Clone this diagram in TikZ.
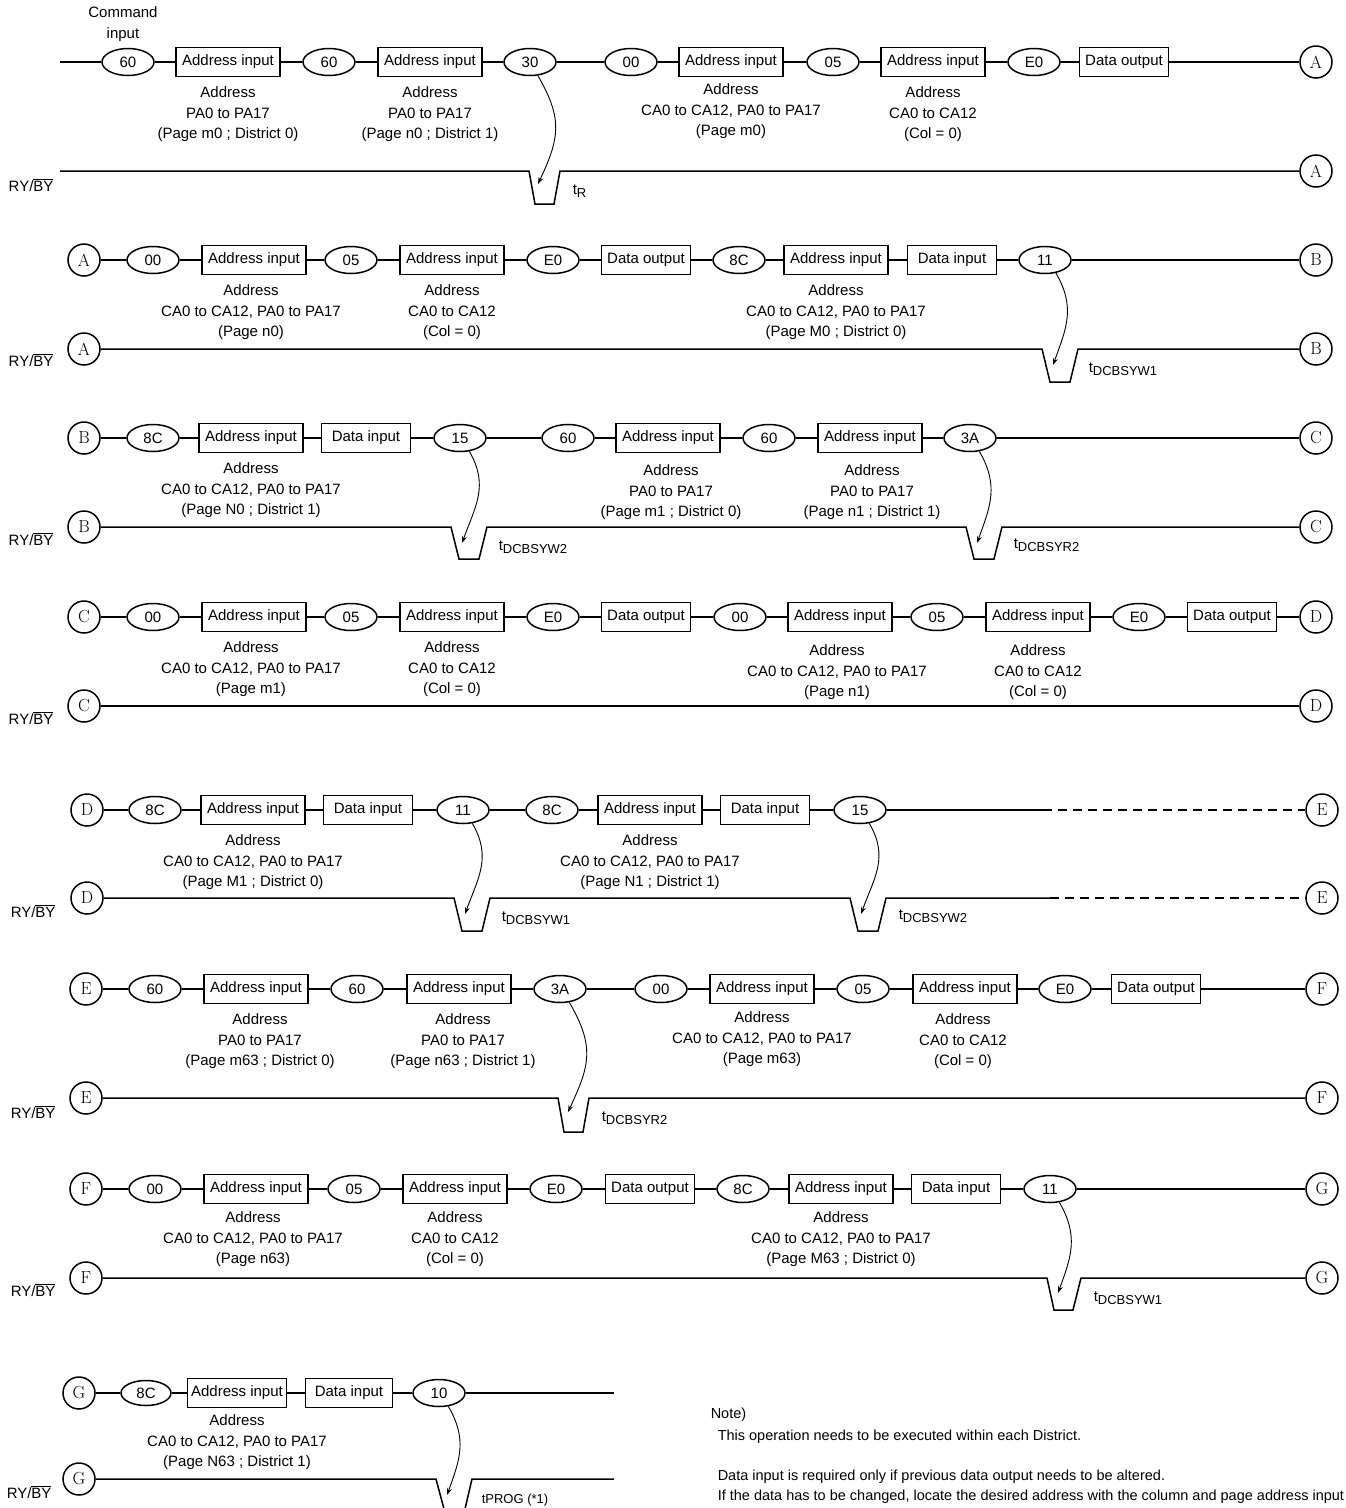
\documentclass[tikz,border=0pt]{standalone}
\usepackage{fontspec}
\setsansfont{Liberation Sans}
\usetikzlibrary{shapes.geometric, arrows.meta, positioning}
\newcommand{\tsub}[1]{t\raisebox{-3.5pt}{\fontsize{13}{13}\selectfont #1}}

\begin{document}
\begin{tikzpicture}[
    x=1pt, y=-1pt,
    font=\sffamily\fontsize{15}{20.5}\selectfont,
    line width=1.5pt,
    % Styles
    cmd/.style={ellipse, draw, minimum width=52pt, minimum height=27pt, inner sep=0pt},
    adrbox/.style={draw, minimum width=104pt, minimum height=29pt, inner sep=0pt},
    datbox/.style={draw, minimum width=89pt, minimum height=29pt, inner sep=0pt},
    conn/.style={circle, draw, minimum size=32pt, inner sep=0pt, font=\rmfamily\fontsize{17.5}{17.5}\selectfont},
    addr/.style={align=center, inner sep=0pt, below=9pt of #1},
    ryby/.style={anchor=west, inner sep=0pt},
    tlbl/.style={anchor=west, inner sep=0pt},
    wait/.style={-{Stealth[length=7pt, width=5pt]}, line width=0.9pt},
    cont/.style={dash pattern=on 9pt off 6pt},
    note/.style={anchor=west, inner sep=0pt, font=\sffamily\fontsize{14.5}{17}\selectfont}
]
    \path[use as bounding box, fill=white] (0,0) rectangle (1346,1508);

    % --- Row 1 ---
    \node[align=center, inner sep=0pt] (cmdin) at (123,24) {Command\\input};
    \coordinate (r1start) at (60,62);
    \node[cmd] (r1a) at (128,62) {60};
    \node[adrbox] (r1b) at (228,62) {Address input};
    \node[cmd] (r1c) at (329,62) {60};
    \node[adrbox] (r1d) at (430,62) {Address input};
    \node[cmd] (r1e) at (530,62) {30};
    \node[cmd] (r1f) at (631,62) {00};
    \node[adrbox] (r1g) at (731,62) {Address input};
    \node[cmd] (r1h) at (833,62) {05};
    \node[adrbox] (r1i) at (933,62) {Address input};
    \node[cmd] (r1j) at (1034,62) {E0};
    \node[datbox] (r1k) at (1124,62) {Data output};
    \node[conn] (outA) at (1316,62) {A};
    \draw (r1start) -- (r1a) -- (r1b) -- (r1c) -- (r1d) -- (r1e) -- (r1f) -- (r1g) -- (r1h) -- (r1i) -- (r1j) -- (r1k) -- (outA);

    \node[addr=r1b] (r1bl) {Address\\PA0 to PA17\\(Page m0 ; District 0)};
    \node[addr=r1d] (r1dl) {Address\\PA0 to PA17\\(Page n0 ; District 1)};
    \node[addr=r1g, yshift=3pt] (r1gl) {Address\\CA0 to CA12, PA0 to PA17\\(Page m0)};
    \node[addr=r1i] (r1il) {Address\\CA0 to CA12\\(Col = 0)};

    \node[ryby] (ry1) at (8,185) {RY/$\overline{\mbox{BY}}$};
    \coordinate (ry1start) at (60,171);
    \node[conn] (ryA1) at (1316,171) {A};
    \draw (ry1start) -- (529,171) coordinate (d1) -- ++(6,33) -- ++(19,0) -- ++(6,-33) coordinate (d1r) -- (ryA1);
    \coordinate (d1t) at ([shift={(9,13)}]d1);
    \draw[wait] (r1e.-60) to[out=-60, in=65, looseness=1.2] (d1t);
    \node[tlbl] (tR) at ([shift={(12,20)}]d1r) {\tsub{R}};

    % --- Row 2 ---
    \node[conn] (inA) at (84,260) {A};
    \node[cmd] (r2a) at (153,260) {00};
    \node[adrbox] (r2b) at (254,260) {Address input};
    \node[cmd] (r2c) at (351,260) {05};
    \node[adrbox] (r2d) at (452,260) {Address input};
    \node[cmd] (r2e) at (553,260) {E0};
    \node[datbox] (r2f) at (646,260) {Data output};
    \node[cmd] (r2g) at (739,260) {8C};
    \node[adrbox] (r2h) at (836,260) {Address input};
    \node[datbox] (r2i) at (952,260) {Data input};
    \node[cmd] (r2j) at (1045,260) {11};
    \node[conn] (outB) at (1316,260) {B};
    \draw (inA) -- (r2a) -- (r2b) -- (r2c) -- (r2d) -- (r2e) -- (r2f) -- (r2g) -- (r2h) -- (r2i) -- (r2j) -- (outB);

    \node[addr=r2b, xshift=-3pt] (r2bl) {Address\\CA0 to CA12, PA0 to PA17\\(Page n0)};
    \node[addr=r2d] (r2dl) {Address\\CA0 to CA12\\(Col = 0)};
    \node[addr=r2h] (r2hl) {Address\\CA0 to CA12, PA0 to PA17\\(Page M0 ; District 0)};

    \node[ryby] (ry2) at (8,360) {RY/$\overline{\mbox{BY}}$};
    \node[conn] (ryA2) at (84,349) {A};
    \node[conn] (ryB1) at (1316,349) {B};
    \draw (ryA2) -- (1042,349) coordinate (d2) -- ++(8,33) -- ++(20,0) -- ++(8,-33) coordinate (d2r) -- (ryB1);
    \coordinate (d2t) at ([shift={(11,16)}]d2);
    \draw[wait] (r2j.-50) to[out=-60, in=70, looseness=1.1] (d2t);
    \node[tlbl] (tW1a) at ([shift={(10,20)}]d2r) {\tsub{DCBSYW1}};

    % --- Row 3 ---
    \node[conn] (inB) at (84,438) {B};
    \node[cmd] (r3a) at (153,438) {8C};
    \node[adrbox] (r3b) at (251,438) {Address input};
    \node[datbox] (r3c) at (366,438) {Data input};
    \node[cmd] (r3d) at (460,438) {15};
    \node[cmd] (r3e) at (568,438) {60};
    \node[adrbox] (r3f) at (668,438) {Address input};
    \node[cmd] (r3g) at (769,438) {60};
    \node[adrbox] (r3h) at (870,438) {Address input};
    \node[cmd] (r3i) at (970,438) {3A};
    \node[conn] (outC) at (1316,438) {C};
    \draw (inB) -- (r3a) -- (r3b) -- (r3c) -- (r3d) -- (r3e) -- (r3f) -- (r3g) -- (r3h) -- (r3i) -- (outC);

    \node[addr=r3b] (r3bl) {Address\\CA0 to CA12, PA0 to PA17\\(Page N0 ; District 1)};
    \node[addr=r3f, xshift=3pt, yshift=-2pt] (r3fl) {Address\\PA0 to PA17\\(Page m1 ; District 0)};
    \node[addr=r3h, xshift=2pt, yshift=-2pt] (r3hl) {Address\\PA0 to PA17\\(Page n1 ; District 1)};

    \node[ryby] (ry3) at (8,539) {RY/$\overline{\mbox{BY}}$};
    \node[conn] (ryB2) at (84,527) {B};
    \node[conn] (ryC1) at (1316,527) {C};
    \draw (ryB2) -- (451,527) coordinate (d3) -- ++(8,32) -- ++(20,0) -- ++(8,-32) coordinate (d3r)
        -- (966,527) coordinate (d4) -- ++(8,32) -- ++(20,0) -- ++(8,-32) coordinate (d4r) -- (ryC1);
    \coordinate (d3t) at ([shift={(11,16)}]d3);
    \coordinate (d4t) at ([shift={(11,16)}]d4);
    \draw[wait] (r3d.-55) to[out=-60, in=70, looseness=1.1] (d3t);
    \draw[wait] (r3i.-55) to[out=-60, in=70, looseness=1.1] (d4t);
    \node[tlbl] (tW2a) at ([shift={(11,20)}]d3r) {\tsub{DCBSYW2}};
    \node[tlbl] (tR2a) at ([shift={(11,18)}]d4r) {\tsub{DCBSYR2}};

    % --- Row 4 ---
    \node[conn] (inC) at (84,617) {C};
    \node[cmd] (r4a) at (153,617) {00};
    \node[adrbox] (r4b) at (254,617) {Address input};
    \node[cmd] (r4c) at (351,617) {05};
    \node[adrbox] (r4d) at (452,617) {Address input};
    \node[cmd] (r4e) at (553,617) {E0};
    \node[datbox] (r4f) at (646,617) {Data output};
    \node[cmd] (r4g) at (740,617) {00};
    \node[adrbox] (r4h) at (840,617) {Address input};
    \node[cmd] (r4i) at (937,617) {05};
    \node[adrbox] (r4j) at (1038,617) {Address input};
    \node[cmd] (r4k) at (1139,617) {E0};
    \node[datbox] (r4l) at (1232,617) {Data output};
    \node[conn] (outD) at (1316,617) {D};
    \draw (inC) -- (r4a) -- (r4b) -- (r4c) -- (r4d) -- (r4e) -- (r4f) -- (r4g) -- (r4h) -- (r4i) -- (r4j) -- (r4k) -- (r4l) -- (outD);

    \node[addr=r4b, xshift=-3pt] (r4bl) {Address\\CA0 to CA12, PA0 to PA17\\(Page m1)};
    \node[addr=r4d] (r4dl) {Address\\CA0 to CA12\\(Col = 0)};
    \node[addr=r4h, xshift=-3pt, yshift=-3pt] (r4hl) {Address\\CA0 to CA12, PA0 to PA17\\(Page n1)};
    \node[addr=r4j, yshift=-3pt] (r4jl) {Address\\CA0 to CA12\\(Col = 0)};

    \node[ryby] (ry4) at (8,718) {RY/$\overline{\mbox{BY}}$};
    \node[conn] (ryC2) at (84,706) {C};
    \node[conn] (ryD1) at (1316,706) {D};
    \draw (ryC2) -- (ryD1);

    % --- Row 5 ---
    \node[conn] (inD) at (87,810) {D};
    \node[cmd] (r5a) at (155,810) {8C};
    \node[adrbox] (r5b) at (253,810) {Address input};
    \node[datbox] (r5c) at (368,810) {Data input};
    \node[cmd] (r5d) at (463,810) {11};
    \node[cmd] (r5e) at (552,810) {8C};
    \node[adrbox] (r5f) at (650,810) {Address input};
    \node[datbox] (r5g) at (765,810) {Data input};
    \node[cmd] (r5h) at (860,810) {15};
    \node[conn] (outE) at (1322,810) {E};
    \coordinate (r5dash) at (1043,810);
    \draw (inD) -- (r5a) -- (r5b) -- (r5c) -- (r5d) -- (r5e) -- (r5f) -- (r5g) -- (r5h) -- (r5dash);
    \draw[cont] (r5dash) -- (outE);

    \node[addr=r5b] (r5bl) {Address\\CA0 to CA12, PA0 to PA17\\(Page M1 ; District 0)};
    \node[addr=r5f] (r5fl) {Address\\CA0 to CA12, PA0 to PA17\\(Page N1 ; District 1)};

    \node[ryby] (ry5) at (10,911) {RY/$\overline{\mbox{BY}}$};
    \node[conn] (ryD2) at (87,898) {D};
    \node[conn] (ryE1) at (1322,898) {E};
    \coordinate (ry5dash) at (1050,898);
    \draw (ryD2) -- (454,898) coordinate (d5) -- ++(8,33) -- ++(20,0) -- ++(8,-33) coordinate (d5r)
        -- (850,898) coordinate (d6) -- ++(8,33) -- ++(20,0) -- ++(8,-33) coordinate (d6r) -- (ry5dash);
    \draw[cont] (ry5dash) -- (ryE1);
    \coordinate (d5t) at ([shift={(11,16)}]d5);
    \coordinate (d6t) at ([shift={(11,16)}]d6);
    \draw[wait] (r5d.-55) to[out=-60, in=70, looseness=1.1] (d5t);
    \draw[wait] (r5h.-55) to[out=-60, in=70, looseness=1.1] (d6t);
    \node[tlbl] (tW1b) at ([shift={(11,20)}]d5r) {\tsub{DCBSYW1}};
    \node[tlbl] (tW2b) at ([shift={(12,18)}]d6r) {\tsub{DCBSYW2}};

    % --- Row 6 ---
    \node[conn] (inE) at (86,989) {E};
    \node[cmd] (r6a) at (155,989) {60};
    \node[adrbox] (r6b) at (256,989) {Address input};
    \node[cmd] (r6c) at (357,989) {60};
    \node[adrbox] (r6d) at (459,989) {Address input};
    \node[cmd] (r6e) at (560,989) {3A};
    \node[cmd] (r6f) at (661,989) {00};
    \node[adrbox] (r6g) at (762,989) {Address input};
    \node[cmd] (r6h) at (863,989) {05};
    \node[adrbox] (r6i) at (965,989) {Address input};
    \node[cmd] (r6j) at (1065,989) {E0};
    \node[datbox] (r6k) at (1156,989) {Data output};
    \node[conn] (outF) at (1322,989) {F};
    \draw (inE) -- (r6a) -- (r6b) -- (r6c) -- (r6d) -- (r6e) -- (r6f) -- (r6g) -- (r6h) -- (r6i) -- (r6j) -- (r6k) -- (outF);

    \node[addr=r6b, xshift=4pt] (r6bl) {Address\\PA0 to PA17\\(Page m63 ; District 0)};
    \node[addr=r6d, xshift=4pt] (r6dl) {Address\\PA0 to PA17\\(Page n63 ; District 1)};
    \node[addr=r6g, yshift=2pt] (r6gl) {Address\\CA0 to CA12, PA0 to PA17\\(Page m63)};
    \node[addr=r6i, xshift=-2pt] (r6il) {Address\\CA0 to CA12\\(Col = 0)};

    \node[ryby] (ry6) at (10,1112) {RY/$\overline{\mbox{BY}}$};
    \node[conn] (ryE2) at (86,1098) {E};
    \node[conn] (ryF1) at (1322,1098) {F};
    \draw (ryE2) -- (558,1098) coordinate (d7) -- ++(6,34) -- ++(19,0) -- ++(6,-34) coordinate (d7r) -- (ryF1);
    \coordinate (d7t) at ([shift={(10,14)}]d7);
    \draw[wait] (r6e.-55) to[out=-60, in=65, looseness=1.2] (d7t);
    \node[tlbl] (tR2b) at ([shift={(12,20)}]d7r) {\tsub{DCBSYR2}};

    % --- Row 7 ---
    \node[conn] (inF) at (86,1189) {F};
    \node[cmd] (r7a) at (155,1189) {00};
    \node[adrbox] (r7b) at (256,1189) {Address input};
    \node[cmd] (r7c) at (354,1189) {05};
    \node[adrbox] (r7d) at (455,1189) {Address input};
    \node[cmd] (r7e) at (556,1189) {E0};
    \node[datbox] (r7f) at (650,1189) {Data output};
    \node[cmd] (r7g) at (743,1189) {8C};
    \node[adrbox] (r7h) at (841,1189) {Address input};
    \node[datbox] (r7i) at (956,1189) {Data input};
    \node[cmd] (r7j) at (1050,1189) {11};
    \node[conn] (outG) at (1322,1189) {G};
    \draw (inF) -- (r7a) -- (r7b) -- (r7c) -- (r7d) -- (r7e) -- (r7f) -- (r7g) -- (r7h) -- (r7i) -- (r7j) -- (outG);

    \node[addr=r7b, xshift=-3pt, yshift=2pt] (r7bl) {Address\\CA0 to CA12, PA0 to PA17\\(Page n63)};
    \node[addr=r7d, yshift=2pt] (r7dl) {Address\\CA0 to CA12\\(Col = 0)};
    \node[addr=r7h, yshift=2pt] (r7hl) {Address\\CA0 to CA12, PA0 to PA17\\(Page M63 ; District 0)};

    \node[ryby] (ry7) at (10,1290) {RY/$\overline{\mbox{BY}}$};
    \node[conn] (ryF2) at (86,1278) {F};
    \node[conn] (ryG1) at (1322,1278) {G};
    \draw (ryF2) -- (1047,1278) coordinate (d8) -- ++(7,32) -- ++(19,0) -- ++(8,-32) coordinate (d8r) -- (ryG1);
    \coordinate (d8t) at ([shift={(11,15)}]d8);
    \draw[wait] (r7j.-55) to[out=-60, in=70, looseness=1.1] (d8t);
    \node[tlbl] (tW1c) at ([shift={(12,20)}]d8r) {\tsub{DCBSYW1}};

    % --- Row 8 ---
    \node[conn] (inG) at (79,1393) {G};
    \node[cmd, minimum width=50pt, minimum height=25pt] (r8a) at (146,1393) {8C};
    \node[adrbox, minimum width=99pt] (r8b) at (237,1393) {Address input};
    \node[datbox, minimum width=87pt] (r8c) at (349,1393) {Data input};
    \node[cmd] (r8d) at (439,1393) {10};
    \coordinate (r8end) at (614,1393);
    \draw (inG) -- (r8a) -- (r8b) -- (r8c) -- (r8d) -- (r8end);

    \node[addr=r8b, yshift=3pt] (r8bl) {Address\\CA0 to CA12, PA0 to PA17\\(Page N63 ; District 1)};

    \node[ryby] (ry8) at (6,1492) {RY/$\overline{\mbox{BY}}$};
    \node[conn] (ryG2) at (79,1479) {G};
    \coordinate (ry8end) at (614,1479);
    \draw (ryG2) -- (436,1479) coordinate (d9) -- ++(8,30);
    \draw (465,1509) -- (472,1479) coordinate (d9r) -- (ry8end);
    \coordinate (d9t) at ([shift={(11,16)}]d9);
    \draw[wait] (r8d.-55) to[out=-60, in=70, looseness=1.1] (d9t);
    \node[tlbl, font=\sffamily\fontsize{13}{13}\selectfont] (tPROG) at ([shift={(9,21)}]d9r) {tPROG (*1)};

    % --- Note ---
    \node[note] (n0) at (710,1415) {Note)};
    \node[note] (n1) at (717,1437) {This operation needs to be executed within each District.};
    \node[note] (n2) at (717,1477) {Data input is required only if previous data output needs to be altered.};
    \node[note] (n3) at (717,1497) {If the data has to be changed, locate the desired address with the column and page address input};

\end{tikzpicture}
\end{document}
